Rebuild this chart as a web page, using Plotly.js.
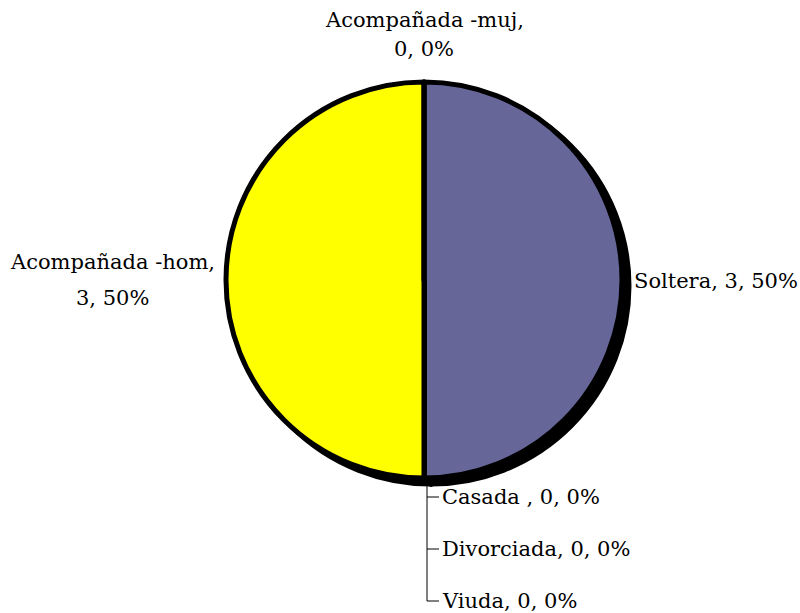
<!DOCTYPE html>
<html><head><meta charset="utf-8">
<script src="https://cdn.plot.ly/plotly-3.0.1.min.js"></script>
<style>html,body{margin:0;padding:0;background:#fff;}</style>
</head><body><div id="chart" style="width:800px;height:613px;"></div>
<script>
const labels = ["Soltera", "Casada ", "Divorciada", "Viuda", "Acompañada -hom", "Acompañada -muj"];
const values = [3, 0, 0, 0, 3, 0];
const colors = ["#666699", "#993366", "#FFFFCC", "#CCFFFF", "#FFFF00", "#660066"];

const total = values.reduce((a, b) => a + b, 0);
const pct = values.map(v => Math.round(v / total * 100));
const lbl = i => labels[i] + ", " + values[i] + ", " + pct[i] + "%";

const W = 800, H = 613;
const px = x => x / W, py = y => 1 - y / H;
const cx = 424, cy = 280, r = 198, sdx = 7, sdy = 6;

const shadow = {
  type: "pie", values: values, labels: labels, sort: false, direction: "clockwise",
  marker: {colors: values.map(() => "#000"), line: {color: "#000", width: 5}},
  textinfo: "none", hoverinfo: "skip", showlegend: false,
  domain: {x: [px(cx - r + sdx), px(cx + r + sdx)], y: [py(cy + r + sdy), py(cy - r + sdy)]}
};
const pie = {
  type: "pie", values: values, labels: labels, sort: false, direction: "clockwise",
  marker: {colors: colors, line: {color: "#000", width: 5}},
  textinfo: "none", showlegend: false,
  domain: {x: [px(cx - r), px(cx + r)], y: [py(cy + r), py(cy - r)]}
};

const font = {family: "DejaVu Serif", size: 21, color: "#000"};
function ann(text, x, y, xanchor) {
  return {text: text, x: px(x), y: py(y), xref: "paper", yref: "paper", xanchor: xanchor, yanchor: "middle", showarrow: false, borderpad: 0, font: font};
}
const annotations = [
  ann(labels[5] + ",", 424, 20, "center"),
  ann(values[5] + ", " + pct[5] + "%", 424, 49, "center"),
  ann(labels[4] + ",", 113, 262, "center"),
  ann(values[4] + ", " + pct[4] + "%", 113, 298, "center"),
  ann(lbl(0), 633, 281, "left"),
  ann(lbl(1), 441, 497, "left"),
  ann(lbl(2), 441, 549, "left"),
  ann(lbl(3), 441, 601, "left")
];
const lineStyle = {color: "#000", width: 1};
const seg = (x0, y0, x1, y1) => ({type: "line", xref: "paper", yref: "paper", x0: px(x0), y0: py(y0), x1: px(x1), y1: py(y1), line: lineStyle});
const shapes = [
  seg(427, 482, 427, 601),
  seg(427, 497, 439, 497),
  seg(427, 549, 439, 549),
  seg(427, 601, 439, 601)
];

Plotly.newPlot("chart", [shadow, pie], {
  width: W, height: H, margin: {l: 0, r: 0, t: 0, b: 0},
  paper_bgcolor: "#fff", plot_bgcolor: "#fff",
  annotations: annotations, shapes: shapes, showlegend: false
}, {displayModeBar: false});
</script></body></html>
